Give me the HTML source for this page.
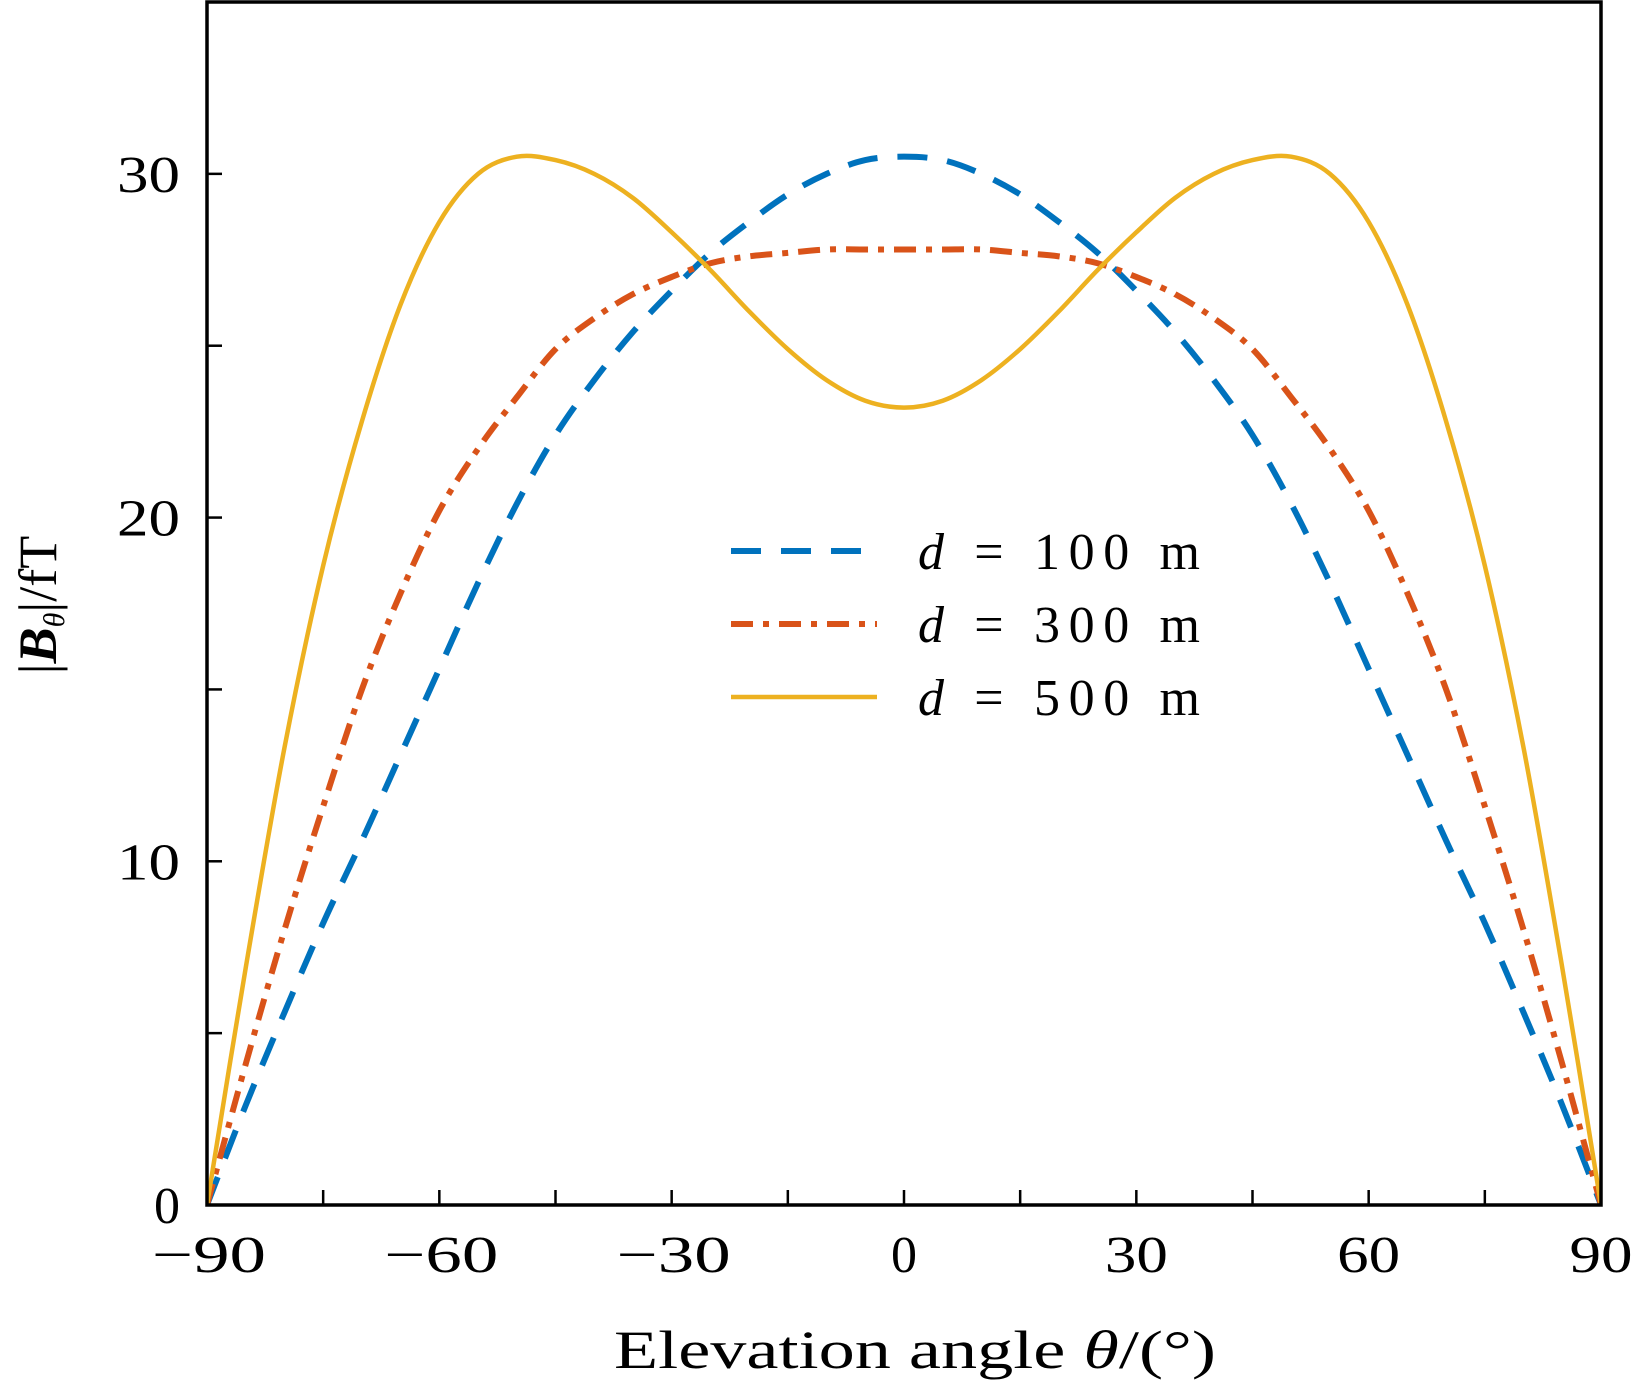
<!DOCTYPE html>
<html><head><meta charset="utf-8"><style>
html,body{margin:0;padding:0;background:#fff;}
svg{display:block;}
text{font-family:"Liberation Serif","DejaVu Serif",serif;fill:#000;}
</style></head><body>
<svg id="chart" width="1637" height="1391" viewBox="0 0 1637 1391" xmlns="http://www.w3.org/2000/svg"></svg>
<script>
const angles = [-90,-85,-80,-75,-70,-65,-60,-55,-50,-45,-40,-35,-30,-25,-20,-15,-10,-5,0,5,10,15,20,25,30,35,40,45,50,55,60,65,70,75,80,85,90];
const half100 = [30.5,30.4,30.0,29.4,28.6,27.7,26.6,25.4,24.0,22.4,20.4,18.1,15.6,13.1,10.6,8.2,5.6,2.9,0];
const half300 = [27.8,27.8,27.8,27.7,27.6,27.4,27.0,26.5,25.8,24.9,23.5,22.0,20.2,17.8,15.0,11.6,8.0,4.1,0];
const half500 = [23.2,23.4,24.0,24.9,26.0,27.2,28.3,29.3,30.0,30.4,30.5,30.0,28.6,26.2,22.8,18.6,13.3,6.9,0];
const series100 = half100.slice(1).reverse().concat(half100);
const series300 = half300.slice(1).reverse().concat(half300);
const series500 = half500.slice(1).reverse().concat(half500);
const xTicks = [-90,-60,-30,0,30,60,90];
const xMinor = [-75,-45,-15,15,45,75];
const yTicks = [0,10,20,30];
const yMinor = [5,15,25];
const legendLabels = ["100","300","500"];

const svg = document.getElementById('chart');
const NS = 'http://www.w3.org/2000/svg';
const L=207,R=1601,T=2,B=1205, XMIN=-90,XMAX=90,YMIN=0,YMAX=35;
const xs = v => L + (v-XMIN)/(XMAX-XMIN)*(R-L);
const ys = v => B - (v-YMIN)/(YMAX-YMIN)*(B-T);
function el(tag, attrs){const e=document.createElementNS(NS,tag);for(const k in attrs)e.setAttribute(k,attrs[k]);svg.appendChild(e);return e;}
function smooth(xv,yv){
  const p=xv.map((x,i)=>[xs(x),ys(yv[i])]);
  let d='M'+p[0][0].toFixed(2)+','+p[0][1].toFixed(2);
  for(let i=0;i<p.length-1;i++){
    const p0=p[Math.max(0,i-1)],p1=p[i],p2=p[i+1],p3=p[Math.min(p.length-1,i+2)];
    const c1=[p1[0]+(p2[0]-p0[0])/6,p1[1]+(p2[1]-p0[1])/6];
    const c2=[p2[0]-(p3[0]-p1[0])/6,p2[1]-(p3[1]-p1[1])/6];
    d+=' C'+c1[0].toFixed(2)+','+c1[1].toFixed(2)+' '+c2[0].toFixed(2)+','+c2[1].toFixed(2)+' '+p2[0].toFixed(2)+','+p2[1].toFixed(2);
  }
  return d;
}
const styles=[
  {c:'#0072BD',w:6,dash:'30 20',data:series100,n:'series-d100'},
  {c:'#D95319',w:6,dash:'22 10 6 10',data:series300,n:'series-d300'},
  {c:'#EDB120',w:4.5,dash:'',data:series500,n:'series-d500'}
];
const clip=el('clipPath',{id:'pc'});
const cr=document.createElementNS(NS,'rect');cr.setAttribute('x',L);cr.setAttribute('y',T);cr.setAttribute('width',R-L);cr.setAttribute('height',B-T);clip.appendChild(cr);
styles.forEach(s=>{
  const p=el('path',{d:smooth(angles,s.data),fill:'none',stroke:s.c,'stroke-width':s.w,'stroke-dasharray':s.dash,'clip-path':'url(#pc)'});
  
  
});
const box=el('rect',{x:L,y:T,width:R-L,height:B-T,fill:'none',stroke:'#000','stroke-width':3.5});


xTicks.concat(xMinor).forEach(v=>{
  const t=el('line',{x1:xs(v),x2:xs(v),y1:B,y2:B-15,stroke:'#000','stroke-width':2.5});
  
  
});
yTicks.concat(yMinor).forEach(v=>{
  const t=el('line',{x1:L,x2:L+15,y1:ys(v),y2:ys(v),stroke:'#000','stroke-width':2.5});
  
  
});
xTicks.forEach(v=>{
  const s=(v<0?'\u2212':'')+Math.abs(v);
  const w = v<0?114:(v===0?26:63);
  const t=el('text',{x:xs(v)+(v<0?2:0),y:1272,'text-anchor':'middle','font-size':52,textLength:w,lengthAdjust:'spacingAndGlyphs'});
  t.textContent=s;
  
  
});
yTicks.forEach(v=>{
  const w = v===0?26:63;
  const t=el('text',{x:180,y:ys(v)+18,'text-anchor':'end','font-size':52,textLength:w,lengthAdjust:'spacingAndGlyphs'});
  t.textContent=String(v);
  
  
});
const xl=el('text',{x:915,y:1368,'text-anchor':'middle','font-size':54,textLength:602,lengthAdjust:'spacingAndGlyphs'});
xl.innerHTML='Elevation angle <tspan font-style="italic">θ</tspan>/(°)';


const yl=el('text',{x:56,y:605,'text-anchor':'middle','font-size':54,transform:'rotate(-90 56 605)'});
yl.innerHTML='|<tspan font-weight="bold" font-style="italic">B</tspan><tspan font-size="30" font-style="italic" dy="8">θ</tspan><tspan dy="-8">|/fT</tspan>';


const legY=[551,624,697];
styles.forEach((s,i)=>{
  const ln=el('line',{x1:731,x2:877,y1:legY[i],y2:legY[i],stroke:s.c,'stroke-width':s.w,'stroke-dasharray':s.dash});
  
  
  const t=el('text',{x:918,y:legY[i]+18,'font-size':52,textLength:282,lengthAdjust:'spacing'});
  t.innerHTML='<tspan font-style="italic">d</tspan> = '+legendLabels[i]+' m';
  
  
});
</script>
</body></html>
